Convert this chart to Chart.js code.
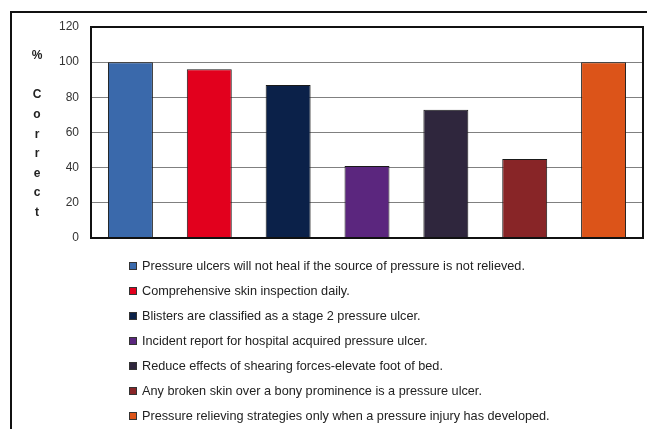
<!DOCTYPE html>
<html>
<head>
<meta charset="utf-8">
<script src="https://cdn.jsdelivr.net/npm/chart.js@4.4.1/dist/chart.umd.min.js"></script>
<style>
  html, body { margin: 0; padding: 0; background: #fff; }
  #wrap { width: 647px; height: 429px; position: relative; }
</style>
</head>
<body>
<div id="wrap"><canvas id="chart"></canvas></div>
<script>
// ---------- data ----------
const categories = [
  'Pressure ulcers will not heal if the source of pressure is not relieved.',
  'Comprehensive skin inspection daily.',
  'Blisters are classified as a stage 2 pressure ulcer.',
  'Incident report for hospital acquired pressure ulcer.',
  'Reduce effects of shearing forces-elevate foot of bed.',
  'Any broken skin over a bony prominence is a pressure ulcer.',
  'Pressure relieving strategies only when a pressure injury has developed.'
];
const percentCorrect = [100, 96, 87, 41, 73, 45, 100];
const barColors = ['#3A69AB', '#E2001D', '#0B2149', '#5B267E', '#2F263D', '#882527', '#DC5419'];
const yTicks = [0, 20, 40, 60, 80, 100, 120];
const yTitle = ['%', 'C', 'o', 'r', 'r', 'e', 'c', 't'];

const FONT = "'Liberation Sans', Arial, sans-serif";

// frame, stacked axis title and the legend list underneath
const decorations = {
  id: 'decorations',
  afterDraw(chart) {
    const ctx = chart.ctx;
    const a = chart.chartArea;
    ctx.save();

    // outer border (top + left)
    ctx.strokeStyle = '#111';
    ctx.lineWidth = 2;
    ctx.beginPath();
    ctx.moveTo(11, 429);
    ctx.lineTo(11, 12);
    ctx.lineTo(647, 12);
    ctx.stroke();

    // plot frame
    ctx.strokeStyle = '#111';
    ctx.lineWidth = 2;
    ctx.strokeRect(a.left, a.top, a.right - a.left, a.bottom - a.top);

    // vertical "% Correct"
    ctx.fillStyle = '#222';
    ctx.font = 'bold 12px ' + FONT;
    ctx.textAlign = 'center';
    ctx.textBaseline = 'middle';
    ctx.fillText(yTitle[0], 37, 56);
    yTitle.slice(1).forEach((ch, i) => ctx.fillText(ch, 37, 95 + i * 19.6));

    // legend
    ctx.font = '12.7px ' + FONT;
    ctx.textAlign = 'left';
    categories.forEach((label, i) => {
      const y = 266 + i * 25;
      ctx.fillStyle = barColors[i];
      ctx.fillRect(129, y - 4, 8, 8);
      ctx.strokeStyle = '#333';
      ctx.lineWidth = 1;
      ctx.strokeRect(129.5, y - 3.5, 7, 7);
      ctx.fillStyle = '#222';
      ctx.fillText(label, 142, y);
    });
    ctx.restore();
  }
};

new Chart(document.getElementById('chart'), {
  type: 'bar',
  data: {
    labels: categories,
    datasets: [{
      data: percentCorrect,
      backgroundColor: barColors,
      borderColor: '#1a1a1a',
      borderWidth: 1,
      barPercentage: 0.57,
      categoryPercentage: 1
    }]
  },
  options: {
    responsive: true,
    maintainAspectRatio: false,
    animation: false,
    layout: { padding: { top: 27, right: 4, bottom: 191, left: 0 } },
    plugins: { legend: { display: false }, tooltip: { enabled: false } },
    scales: {
      x: {
        ticks: { display: false },
        grid: { display: false },
        border: { display: false },
        afterFit: s => { s.height = 0; }
      },
      y: {
        min: 0,
        max: 120,
        afterBuildTicks: s => { s.ticks = yTicks.map(v => ({ value: v })); },
        afterFit: s => { s.width = 91; },
        ticks: {
          color: '#333',
          font: { family: FONT, size: 12 },
          padding: 12
        },
        grid: { color: '#808080', lineWidth: 1, drawTicks: false },
        border: { display: false }
      }
    }
  },
  plugins: [decorations]
});
</script>
</body>
</html>
